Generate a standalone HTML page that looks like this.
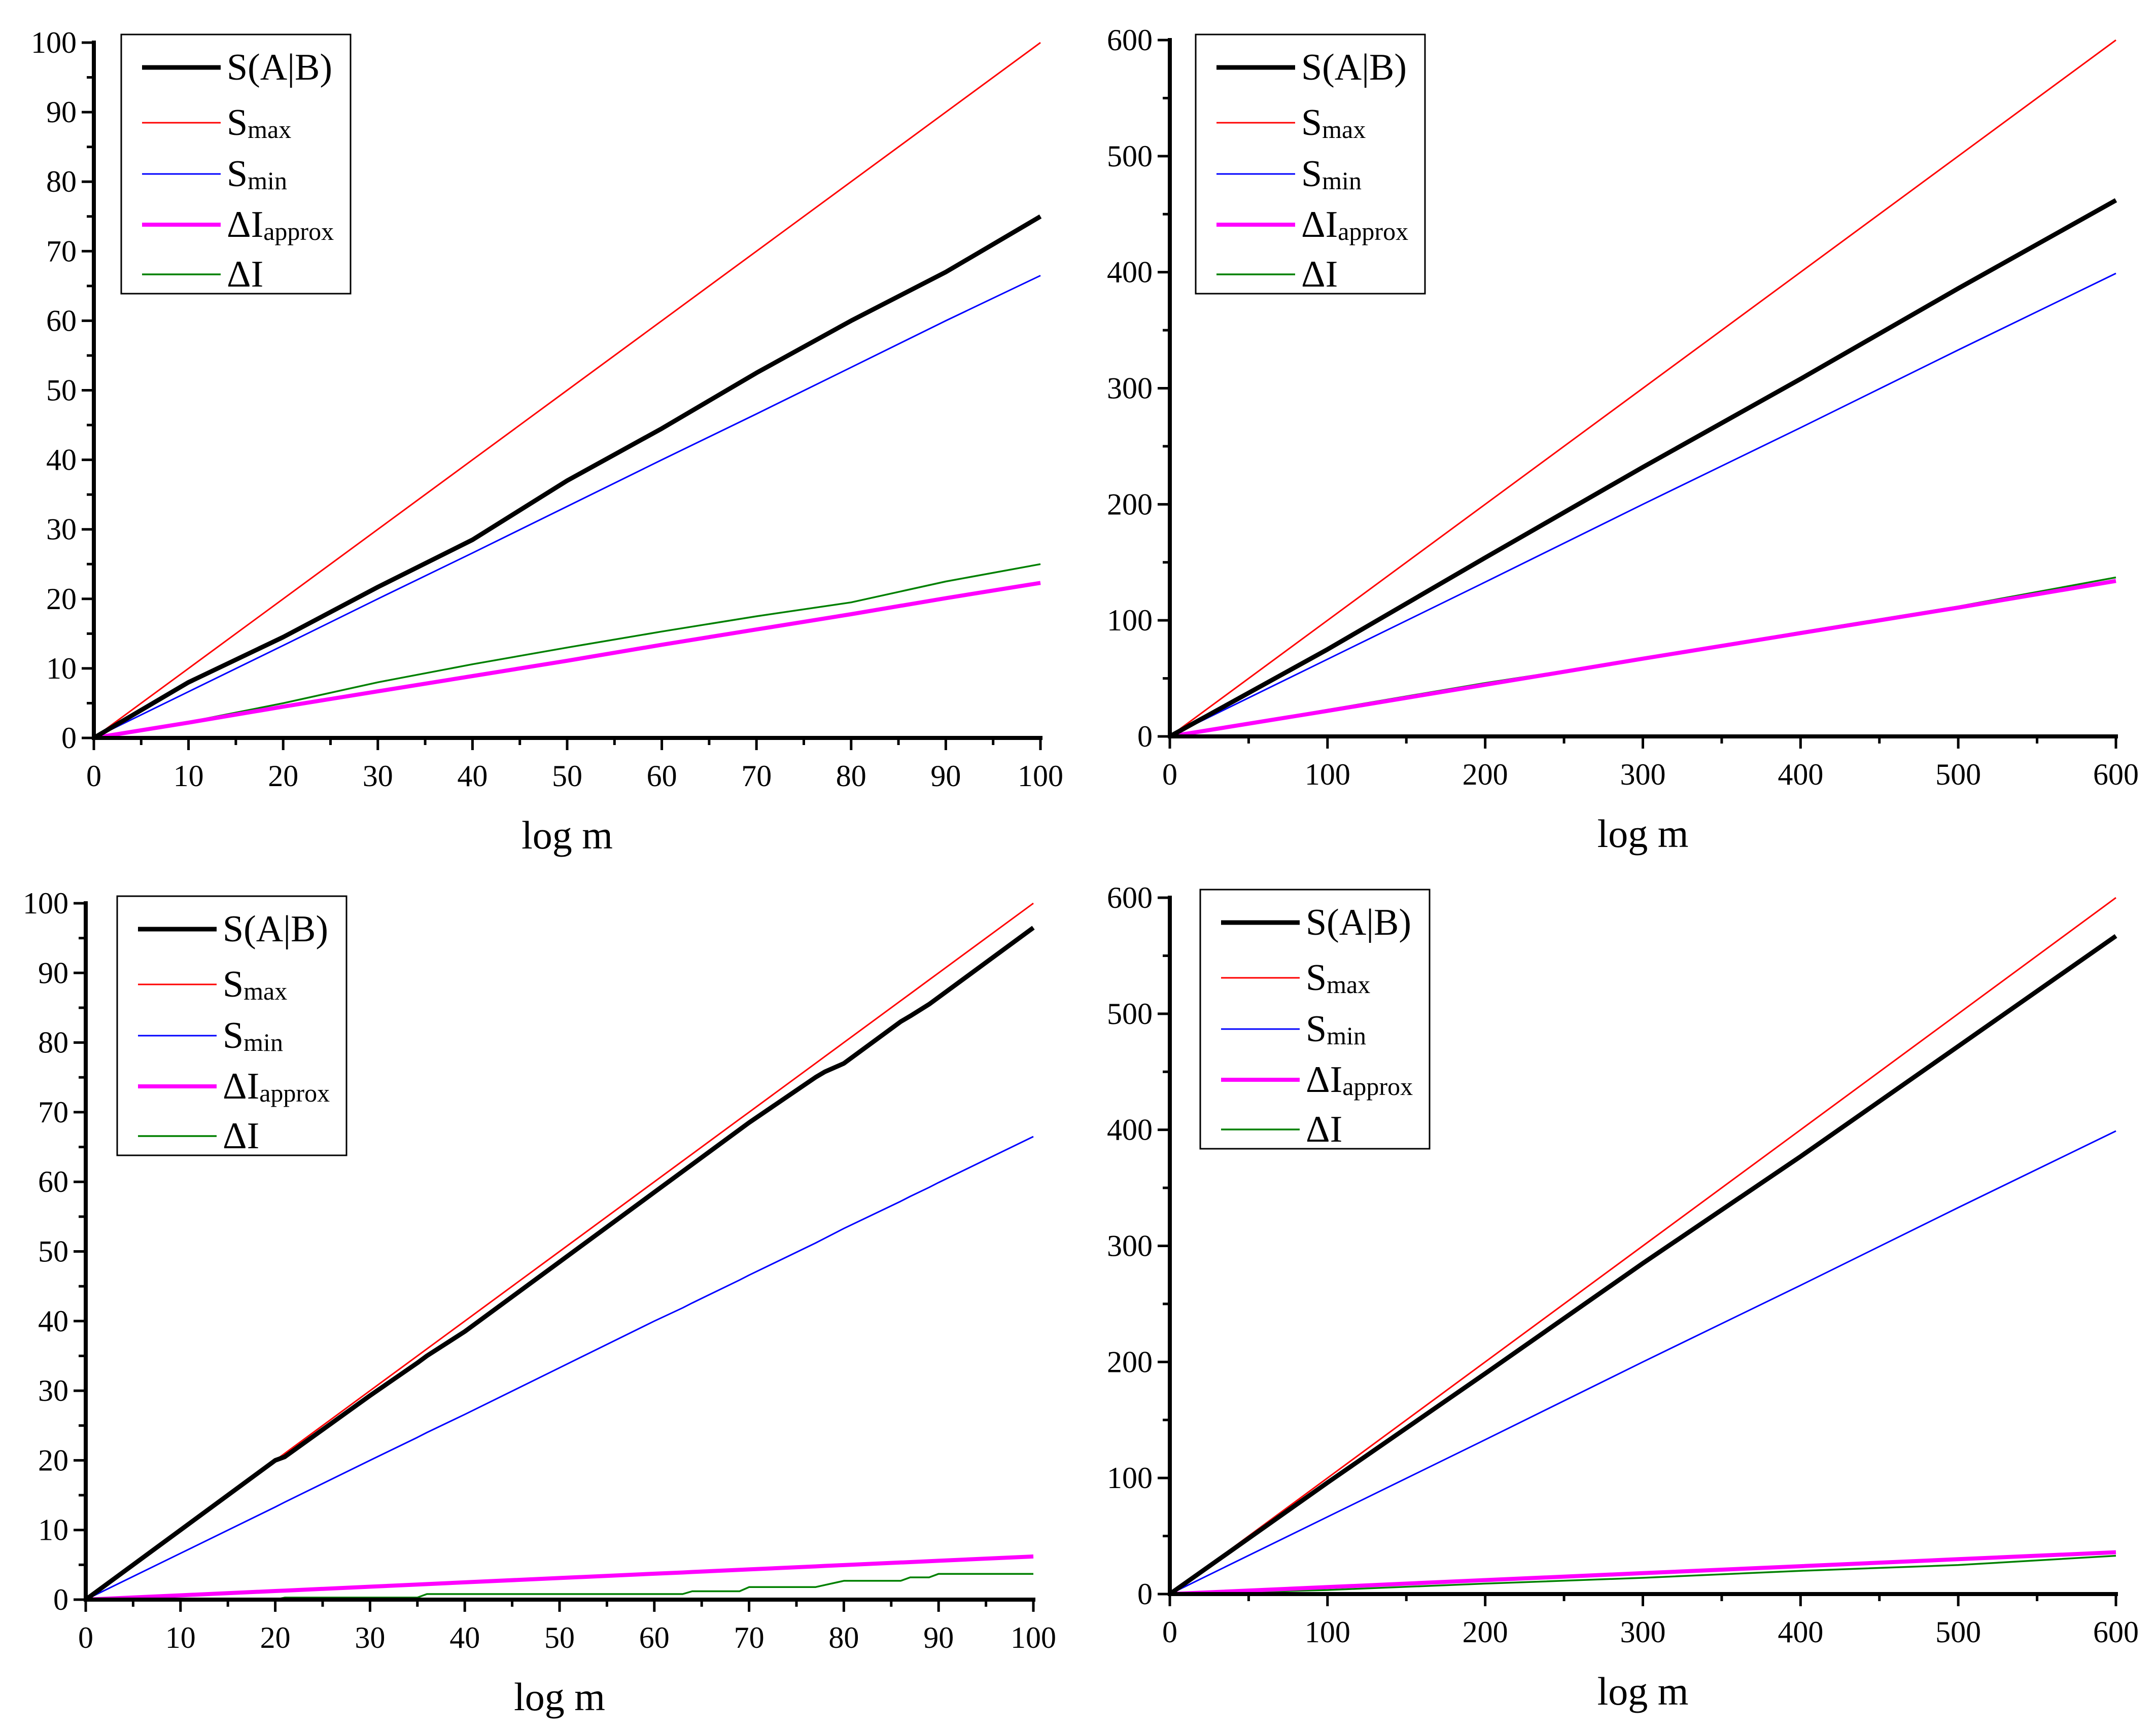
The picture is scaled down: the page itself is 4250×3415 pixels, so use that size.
<!DOCTYPE html>
<html><head><meta charset="utf-8"><style>
html,body{margin:0;padding:0;background:#fff}
svg{display:block}
text{font-family:"Liberation Serif","DejaVu Serif",serif;fill:#000}
</style></head><body>
<svg id="fig" xmlns="http://www.w3.org/2000/svg" width="4250" height="3415" viewBox="0 0 4250 3415" font-family="Liberation Serif, DejaVu Serif, serif"></svg>
<script>
// ---- data: top-left panel ----
const tlX=[0,10,20,30,40,50,60,70,80,90,100];
const tlS=[0,8,14.5,21.7,28.5,37,44.5,52.5,60,67,75];
const tlSmax=[0,10,20,30,40,50,60,70,80,90,100];
const tlSmin=[0,6.65,13.3,20,26.6,33.3,40,46.6,53.3,60,66.5];
const tlDIa=[0,2.2,4.5,6.7,8.9,11.1,13.4,15.6,17.8,20.1,22.3];
const tlDI=[0,2.3,5,8,10.6,13,15.3,17.5,19.5,22.5,25];
// ---- data: top-right panel ----
const trX=[0,100,200,300,400,500,600];
const trS=[0,75,154,232,308,386,462];
const trSmax=[0,100,200,300,400,500,600];
const trSmin=[0,66.5,133,200,266,333,399];
const trDIa=[0,22,44.5,67,89,111,134];
const trDI=[0,23,46,67,90,112,137];
// ---- data: bottom-left panel ----
const blX=[0,10,20,21,30,35,36,40,50,60,63,64,69,70,77,78,80,86,87,89,90,100];
const blS=[0,10,20,20.5,29.3,34,35,38.5,48.5,58.5,61.5,62.5,67.5,68.5,75,75.8,77,83,83.8,85.5,86.5,96.5];
const blSmax=[0,10,20,21,30,35,36,40,50,60,63,64,69,70,77,78,80,86,87,89,90,100];
const blSmin=[0,6.65,13.3,14,20,23.3,24,26.6,33.3,40,41.9,42.6,45.9,46.6,51.2,51.9,53.3,57.2,57.9,59.2,59.9,66.5];
const blDIa=[0,0.62,1.24,1.3,1.86,2.17,2.23,2.48,3.1,3.72,3.9,3.97,4.28,4.34,4.77,4.84,4.96,5.33,5.39,5.52,5.58,6.2];
const blDI=[0,0,0,0.3,0.3,0.3,0.8,0.8,0.8,0.8,0.8,1.2,1.2,1.8,1.8,2.1,2.7,2.7,3.2,3.2,3.7,3.7];
// ---- data: bottom-right panel ----
const brX=[0,100,200,300,400,500,600];
const brS=[0,96,190,285,377,472,567];
const brSmax=[0,100,200,300,400,500,600];
const brSmin=[0,66.5,133,200,266,333,399];
const brDIa=[0,6,12,18,24,30,36];
const brDI=[0,3.5,9,14,20,25,33];
const legendLabels=["S(A|B)","S^max","S^min","ΔI^approx","ΔI"];

const NS="http://www.w3.org/2000/svg";
const svg=document.getElementById('fig');
const FF='"Liberation Serif","DejaVu Serif",serif';
function el(tag,attrs,parent){const e=document.createElementNS(NS,tag);for(const k in attrs)e.setAttribute(k,attrs[k]);(parent||svg).appendChild(e);return e;}

const styles=[
 {c:"#000000",w:9,n:"s-ab"},
 {c:"#ff0000",w:3,n:"s-max"},
 {c:"#0000ff",w:3,n:"s-min"},
 {c:"#ff00ff",w:8,n:"delta-i-approx"},
 {c:"#008000",w:3.5,n:"delta-i"}];

function panel(id,L,R,B,T,xmax,ymax,xstep,ystep,xs,series,leg){
  const g=el('g',{});
  
  
  const X=v=>L+(R-L)*v/xmax, Y=v=>B-(B-T)*v/ymax;
  [4,3,2,1,0].forEach(i=>{
    const vals=series[i];
    const d=xs.map((x,j)=>(j?'L':'M')+X(x).toFixed(1)+' '+Y(vals[j]).toFixed(1)).join(' ');
    const p=el('path',{d:d,fill:'none',stroke:styles[i].c,'stroke-width':styles[i].w,'stroke-linejoin':'round'},g);
    
    
  });
  const ax=el('path',{d:`M${L} ${T-4} L${L} ${B} L${R+4} ${B}`,fill:'none',stroke:'#000','stroke-width':8},g);
  
  
  for(let v=0;v<=ymax+1e-9;v+=ystep/2){
    const major=Math.abs(v/ystep-Math.round(v/ystep))<1e-6;
    el('line',{x1:L,x2:L-(major?24:14),y1:Y(v),y2:Y(v),stroke:'#000','stroke-width':5},g);
    if(major){const t=el('text',{x:L-34,y:Y(v)+20,'font-size':60,'text-anchor':'end','font-family':FF},g);t.textContent=Math.round(v);
      
      }
  }
  for(let v=0;v<=xmax+1e-9;v+=xstep/2){
    const major=Math.abs(v/xstep-Math.round(v/xstep))<1e-6;
    el('line',{x1:X(v),x2:X(v),y1:B,y2:B+(major?24:14),stroke:'#000','stroke-width':5},g);
    if(major){const t=el('text',{x:X(v),y:B+95,'font-size':60,'text-anchor':'middle','font-family':FF},g);t.textContent=Math.round(v);
      
      }
  }
  const xt=el('text',{x:(L+R)/2,y:B+218,'font-size':78,'text-anchor':'middle','font-family':FF},g);
  xt.textContent='log m';
  
  
  const lg=el('g',{},g);
  
  
  el('rect',{x:leg[0],y:leg[1],width:452,height:511,fill:'#fff',stroke:'#000','stroke-width':3},lg);
  const rows=[65,174,275,375,473];
  legendLabels.forEach((lab,i)=>{
    const y=leg[1]+rows[i];
    el('line',{x1:leg[0]+41,x2:leg[0]+196,y1:y,y2:y,stroke:styles[i].c,'stroke-width':styles[i].w},lg);
    const t=el('text',{x:leg[0]+208,y:y+24,'font-size':74,'font-family':FF},lg);
    
    
    const parts=lab.split('^');
    t.textContent=parts[0];
    if(parts[1]){const s=el('tspan',{'font-size':50,dy:6},t);s.textContent=parts[1];}
  });
}
panel('top-left',185,2051,1455,84,100,100,10,10,tlX,[tlS,tlSmax,tlSmin,tlDIa,tlDI],[239,68]);
panel('top-right',2306,4171,1452,79,600,600,100,100,trX,[trS,trSmax,trSmin,trDIa,trDI],[2357,68]);
panel('bottom-left',169,2037,3154,1781,100,100,10,10,blX,[blS,blSmax,blSmin,blDIa,blDI],[231,1767]);
panel('bottom-right',2306,4171,3143,1770,600,600,100,100,brX,[brS,brSmax,brSmin,brDIa,brDI],[2366,1754]);
</script>
</body></html>
